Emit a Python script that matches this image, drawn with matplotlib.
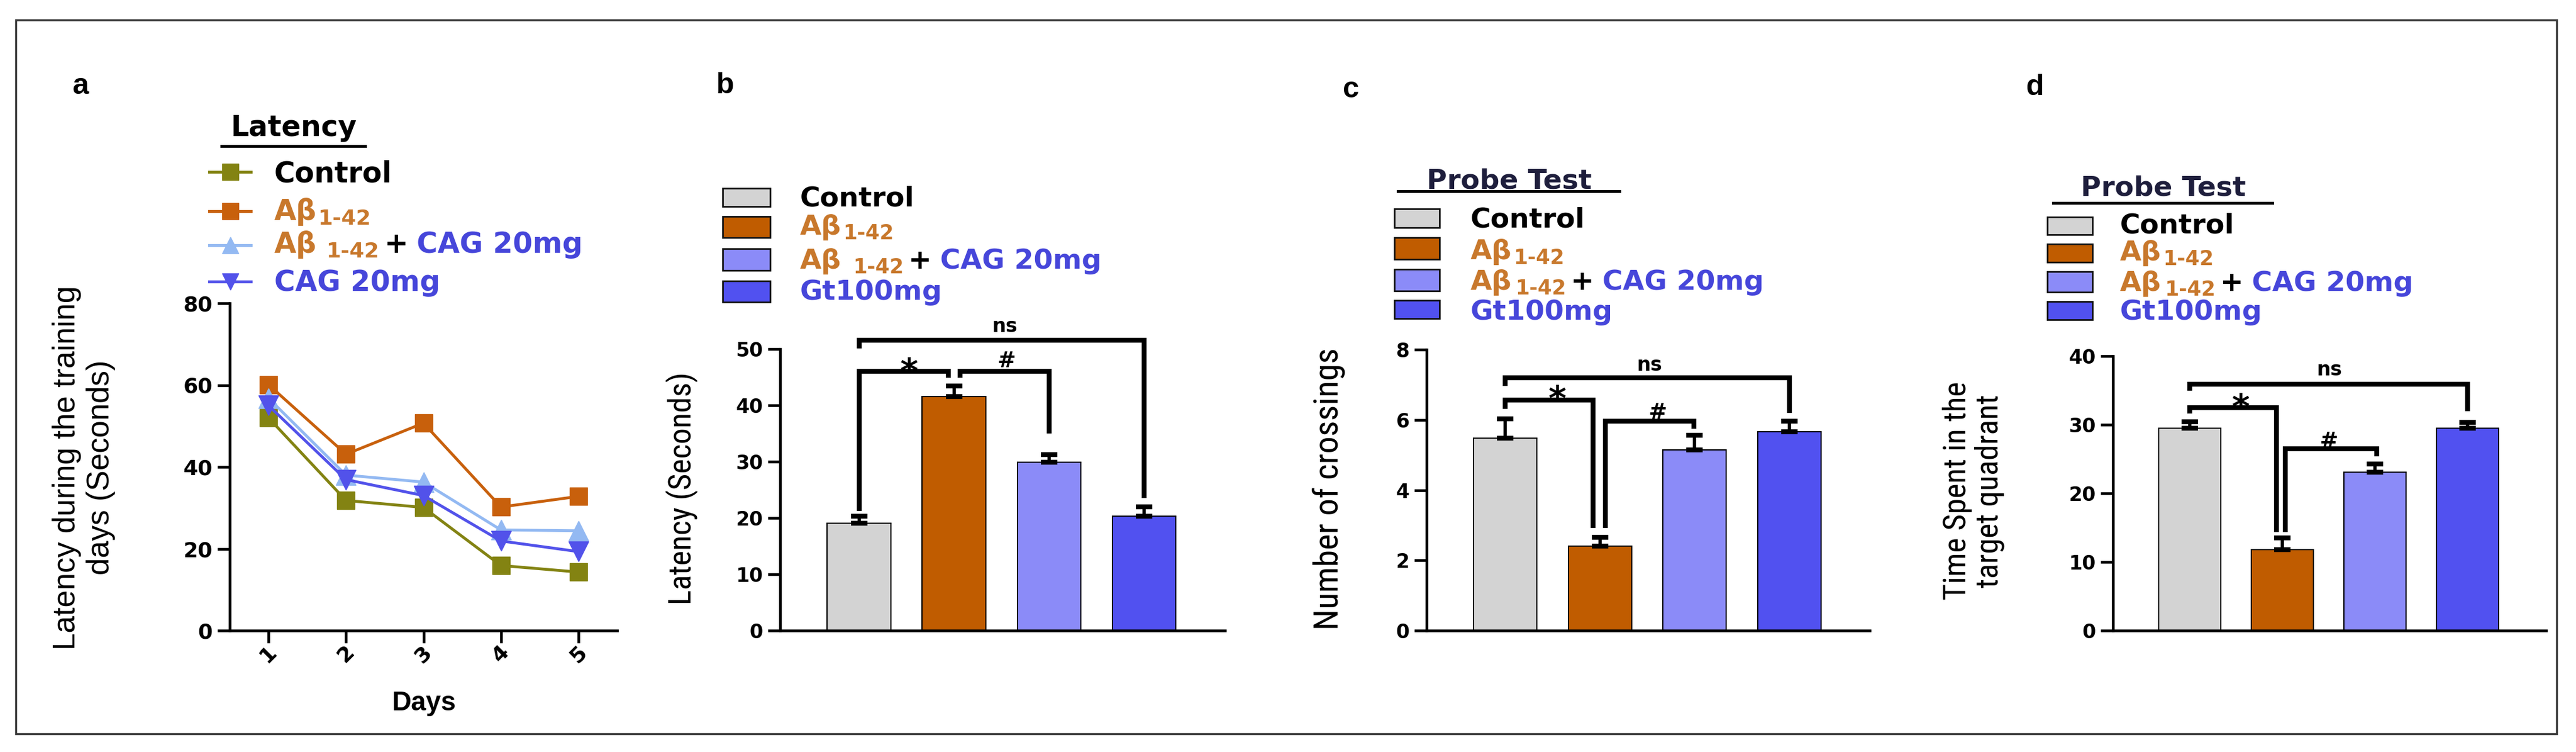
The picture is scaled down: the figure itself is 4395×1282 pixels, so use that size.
import matplotlib
matplotlib.use('Agg')
import matplotlib.pyplot as plt
from matplotlib.text import Annotation
from matplotlib.patches import Rectangle
from matplotlib.lines import Line2D
from matplotlib import font_manager as fm

# ---------------- data ----------------
days = [1, 2, 3, 4, 5]
lat_control = [52.0, 31.8, 30.1, 15.9, 14.3]
lat_abeta = [60.1, 43.1, 50.7, 30.2, 32.8]
lat_abeta_cag = [56.8, 38.0, 36.3, 24.6, 24.4]
lat_cag = [55.0, 36.9, 33.0, 21.9, 19.3]

groups = ['Control', 'Aβ1-42', 'Aβ1-42 + CAG 20mg', 'Gt100mg']
probe_latency = [19.1, 41.6, 29.9, 20.3]
probe_latency_err = [1.2, 1.8, 1.3, 1.7]
crossings = [5.48, 2.40, 5.15, 5.66]
crossings_err = [0.55, 0.26, 0.41, 0.31]
time_quadrant = [29.5, 11.8, 23.05, 29.5]
time_quadrant_err = [0.9, 1.7, 1.2, 0.8]

yticks_a = [0, 20, 40, 60, 80]
yticks_b = [0, 10, 20, 30, 40, 50]
yticks_c = [0, 2, 4, 6, 8]
yticks_d = [0, 10, 20, 30, 40]

# ---------------- style ----------------
line_colors = ['#838312', '#c8600c', '#93b9f2', '#5252ea']
line_markers = ['s', 's', '^', 'v']
bar_colors = ['#d3d3d3', '#c05c00', '#8b8bf8', '#5151f0']
ORANGE_TXT = '#c8782c'
BLUE_TXT = '#4646da'
NAVY = '#1e1e3c'

names = {f.name for f in fm.fontManager.ttflist}
NARROW = next((n for n in ['Liberation Sans Narrow', 'Roboto Condensed',
                           'Open Sans Condensed', 'Noto Sans Condensed']
               if n in names), 'Liberation Sans')
WIDE = 'DejaVu Sans'
ARIAL = 'Liberation Sans'

W, H = 4395, 1282
fig = plt.figure(figsize=(W / 100, H / 100), dpi=100)


def fx(px):
    return px / W


def fy(py):
    return 1 - py / H


def axes_px(l, r, t, b):
    return fig.add_axes([fx(l), fy(b), (r - l) / W, (b - t) / H])


def rich(x, y, parts):
    """parts: (text, color, size, dx_pt, dy_pt). x,y pixel baseline."""
    prev = None
    for txt, color, size, dx, dy in parts:
        if prev is None:
            a = Annotation(txt, xy=(fx(x), fy(y)), xycoords='figure fraction',
                           xytext=(dx, dy), textcoords='offset points',
                           ha='left', va='baseline', color=color, fontsize=size,
                           fontweight='bold', family=WIDE)
        else:
            a = Annotation(txt, xy=(1, fy(y)), xycoords=(prev, 'figure fraction'),
                           xytext=(dx, dy), textcoords='offset points',
                           ha='left', va='baseline', color=color, fontsize=size,
                           fontweight='bold', family=WIDE)
        fig.add_artist(a)
        prev = a
    return prev


def legend_entries(x, baselines, size, sub_size, sub_gap):
    rich(x, baselines[0], [('Control', 'black', size, 0, 0)])
    rich(x, baselines[1], [('Aβ', ORANGE_TXT, size, 0, 0),
                           ('1-42', ORANGE_TXT, sub_size, 2, -6)])
    rich(x, baselines[2], [('Aβ', ORANGE_TXT, size, 0, 0),
                           ('1-42', ORANGE_TXT, sub_size, sub_gap, -6),
                           ('+', 'black', size, 6, 0),
                           ('CAG 20mg', BLUE_TXT, size, 10, 0)])


def title_underlined(x0, x1, baseline, uline, text, color, size):
    fig.text(fx((x0 + x1) / 2), fy(baseline), text, ha='center', va='baseline',
             fontsize=size, fontweight='bold', family=WIDE, color=color)
    fig.add_artist(Line2D([fx(x0 - 4), fx(x1 + 2)], [fy(uline)] * 2,
                          transform=fig.transFigure, color='black', lw=3.5))


def patch_legend(x0, x1, rows):
    for (t, b), c in zip(rows, bar_colors):
        fig.add_artist(Rectangle((fx(x0), fy(b)), (x1 - x0) / W, (b - t) / H,
                                 transform=fig.transFigure, facecolor=c,
                                 edgecolor='#111111', lw=2))


def style_bar_axes(ax, ticks):
    for s in ['top', 'right']:
        ax.spines[s].set_visible(False)
    for s in ['left', 'bottom']:
        ax.spines[s].set_linewidth(3.3)
    ax.set_ylim(ticks[0], ticks[-1])
    ax.set_yticks(ticks)
    ax.set_xlim(-0.83, 3.85)
    ax.set_xticks([])
    ax.tick_params(axis='y', length=15, width=3.3, labelsize=24, pad=6)
    for lab in ax.get_yticklabels():
        lab.set_fontweight('bold')
        lab.set_family(WIDE)


def bars(ax, vals, errs):
    x = list(range(len(vals)))
    ax.bar(x, vals, width=0.67, color=bar_colors, edgecolor='black', lw=1.5, zorder=2)
    ax.errorbar(x, vals, yerr=[[0] * len(errs), errs], fmt='none', ecolor='black',
                elinewidth=4, capsize=10, capthick=6, zorder=3)


def bracket(ax, x1, x2, y, y1, y2):
    ax.plot([x1, x1, x2, x2], [y1, y, y, y2], color='black', lw=6,
            solid_joinstyle='miter', solid_capstyle='butt', clip_on=False, zorder=4)


def sig(ax, x, y, text, size, rise):
    ax.annotate(text, xy=(x, y), xytext=(0, -rise * size), textcoords='offset points',
                ha='center', va='baseline', fontsize=size, fontweight='bold',
                family=WIDE, annotation_clip=False)


# ---------------- panel a ----------------
axa = axes_px(392, 1053, 517, 1075)
series = [lat_control, lat_abeta, lat_abeta_cag, lat_cag]
for vals, c, m in zip(series, line_colors, line_markers):
    axa.plot(days, vals, color=c, lw=3.5, marker=m,
             ms=22 if m == 's' else 24, mec=c, mfc=c, zorder=3, clip_on=False)
axa.set_xlim(0.5, 5.5)
axa.set_ylim(0, 80)
axa.set_yticks(yticks_a)
axa.set_xticks(days)
for s in ['top', 'right']:
    axa.spines[s].set_visible(False)
for s in ['left', 'bottom']:
    axa.spines[s].set_linewidth(3.3)
axa.tick_params(axis='both', length=15, width=3.3, labelsize=26, pad=6)
axa.tick_params(axis='x', pad=14)
for lab in axa.get_yticklabels():
    lab.set_fontweight('bold')
    lab.set_family(WIDE)
for lab in axa.get_xticklabels():
    lab.set_fontweight('bold')
    lab.set_family(WIDE)
    lab.set_rotation(45)
    lab.set_va('center')
    lab.set_ha('center')
fig.text(fx(724), fy(1199), 'Days', ha='center', va='center', fontsize=33,
         fontweight='bold', family=ARIAL)
fig.text(fx(143), fy(797), 'Latency during the training\ndays (Seconds)',
         ha='center', va='center', rotation=90, fontsize=38, family=ARIAL,
         linespacing=1.2)

# legend a
title_underlined(382, 621, 232, 249, 'Latency', 'black', 35)
for yy, c, m in zip([293, 360, 418, 480], line_colors, line_markers):
    fig.add_artist(Line2D([fx(357), fx(428)], [fy(yy)] * 2, transform=fig.transFigure,
                          color=c, lw=3.5))
    fig.add_artist(Line2D([fx(393)], [fy(yy)], transform=fig.transFigure, color=c,
                          marker=m, ms=20, mfc=c, mec=c, lw=0))
legend_entries(468, [311, 375, 431], 35, 26, 12)
rich(468, 496, [('CAG 20mg', BLUE_TXT, 35, 0, 0)])

# ---------------- panel b ----------------
axb = axes_px(1331, 2090, 595, 1075)
bars(axb, probe_latency, probe_latency_err)
style_bar_axes(axb, yticks_b)
bracket(axb, 0, 3, 51.6, 50.1, 23.5)
bracket(axb, 0, 0.94, 46.0, 21.2, 44.9)
bracket(axb, 1.06, 2.0, 46.0, 44.9, 35.0)
sig(axb, 0.53, 47.6, '*', 42, 0.58)
sig(axb, 1.55, 48.2, '#', 27, 0.36)
sig(axb, 1.53, 54.0, 'ns', 24, 0.28)
fig.text(fx(1163), fy(833), 'Latency (Seconds)', ha='center', va='center',
         rotation=90, fontsize=39, family=NARROW, fontstretch='condensed')
fig.text(fx(1237), fy(146), 'b', ha='center', va='center', fontsize=36,
         fontweight='bold', family=ARIAL)
patch_legend(1233, 1314, [(321, 352), (369, 405), (424, 461), (479, 515)])
legend_entries(1365, [352, 400, 458], 34, 25, 14)
rich(1365, 511, [('Gt100mg', BLUE_TXT, 34, 0, 0)])

# ---------------- panel c ----------------
axc = axes_px(2434, 3190, 596, 1075)
bars(axc, crossings, crossings_err)
style_bar_axes(axc, yticks_c)
bracket(axc, 0, 3, 7.2, 6.97, 6.2)
bracket(axc, 0, 0.93, 6.56, 6.32, 2.93)
bracket(axc, 1.06, 1.99, 5.97, 2.93, 5.74)
sig(axc, 0.55, 6.85, '*', 42, 0.58)
sig(axc, 1.61, 6.26, '#', 27, 0.36)
sig(axc, 1.52, 7.55, 'ns', 24, 0.28)
fig.text(fx(2267), fy(833), 'Number of crossings', ha='center', va='center',
         rotation=90, fontsize=42, family=NARROW, fontstretch='condensed')
fig.text(fx(2305), fy(153), 'c', ha='center', va='center', fontsize=36,
         fontweight='bold', family=ARIAL)
title_underlined(2389, 2761, 321, 326, 'Probe Test', NAVY, 34)
patch_legend(2379, 2456, [(356, 388), (405, 442), (459, 496), (512, 543)])
legend_entries(2509, [388, 442, 494], 34, 25, 4)
rich(2509, 545, [('Gt100mg', BLUE_TXT, 34, 0, 0)])

# ---------------- panel d ----------------
axd = axes_px(3605, 4344, 607, 1075)
bars(axd, time_quadrant, time_quadrant_err)
style_bar_axes(axd, yticks_d)
bracket(axd, 0, 3, 35.9, 35.0, 32.0)
bracket(axd, 0, 0.94, 32.5, 31.6, 14.4)
bracket(axd, 1.03, 2.02, 26.5, 14.4, 25.4)
sig(axd, 0.55, 33.8, '*', 42, 0.58)
sig(axd, 1.5, 27.8, '#', 27, 0.36)
sig(axd, 1.51, 38.0, 'ns', 24, 0.28)
fig.text(fx(3367), fy(837), 'Time Spent in the\ntarget quadrant', ha='center',
         va='center', rotation=90, fontsize=39, family=NARROW,
         fontstretch='condensed', linespacing=1.1)
fig.text(fx(3472), fy(149), 'd', ha='center', va='center', fontsize=36,
         fontweight='bold', family=ARIAL)
title_underlined(3507, 3875, 334, 346, 'Probe Test', NAVY, 34)
patch_legend(3493, 3570, [(370, 400), (416, 447), (463, 498), (514, 545)])
legend_entries(3617, [398, 444, 496], 34, 25, 4)
rich(3617, 545, [('Gt100mg', BLUE_TXT, 34, 0, 0)])

# panel a label and frame
fig.text(fx(137), fy(147), 'a', ha='center', va='center', fontsize=36,
         fontweight='bold', family=ARIAL)
fig.add_artist(Rectangle((fx(27), fy(1251)), (4362 - 27) / W, (1251 - 34) / H,
                         transform=fig.transFigure, fill=False, lw=2.5,
                         edgecolor='#3a3a3a'))

fig.savefig('out.png', dpi=100, facecolor='white')
